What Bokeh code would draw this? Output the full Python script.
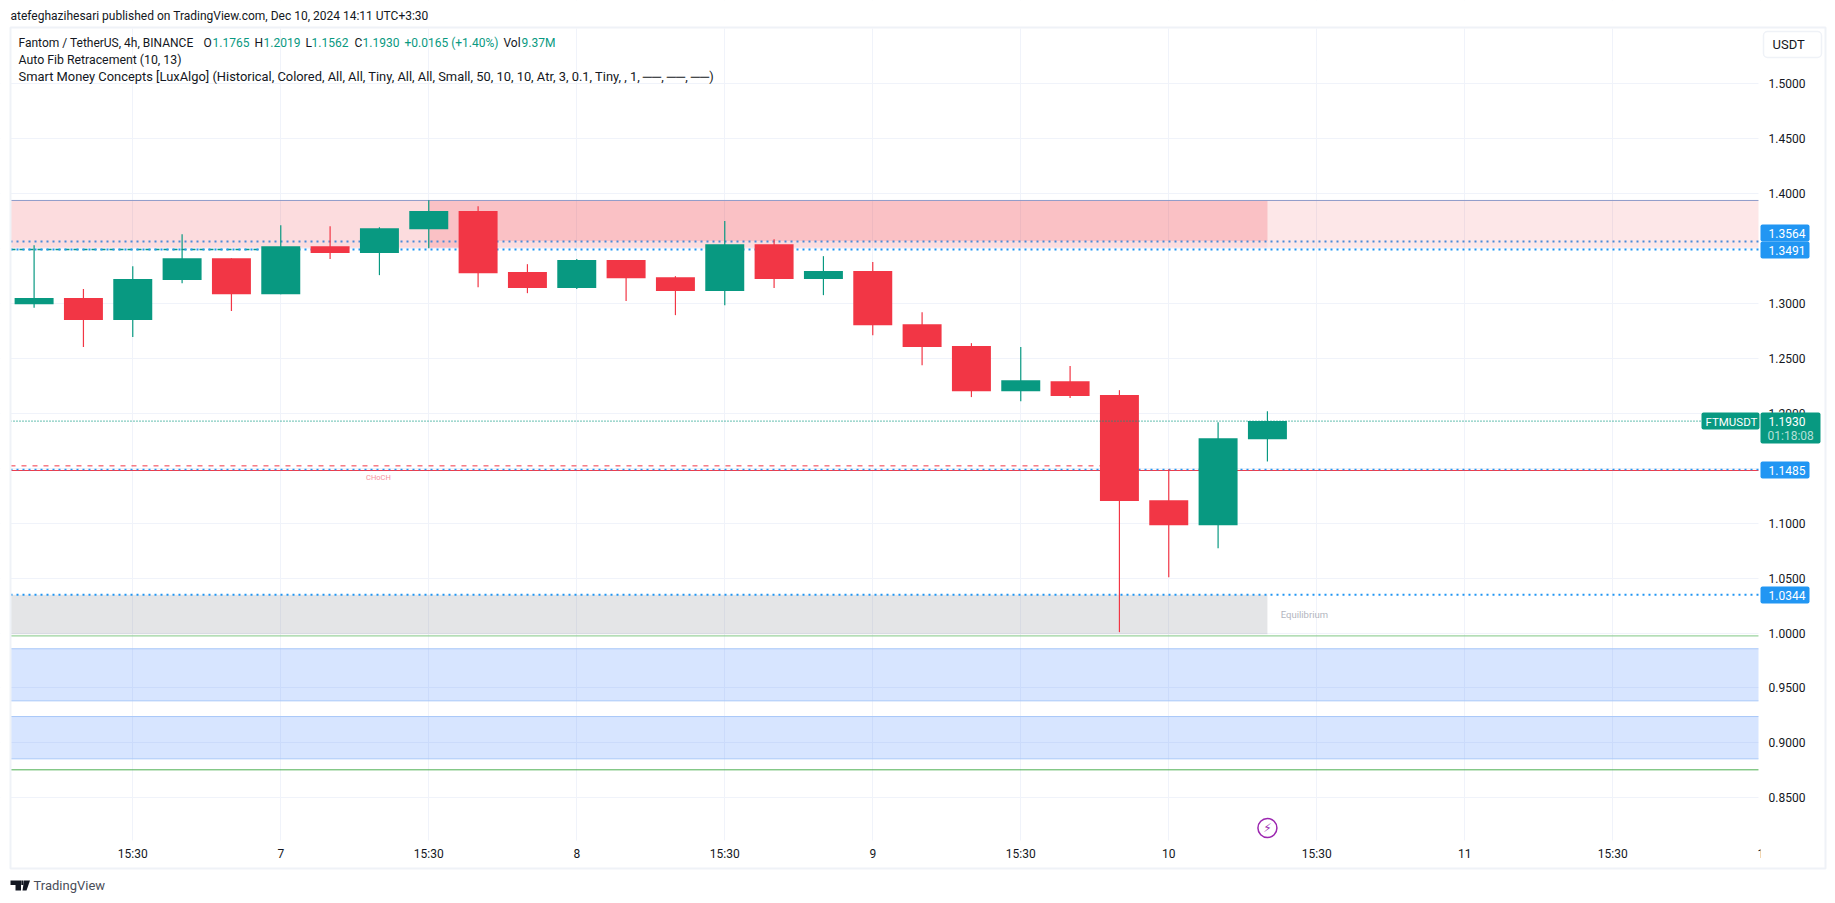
from bokeh.embed import file_html
from bokeh.resources import INLINE
from bokeh.plotting import figure
from bokeh.models import (Range1d, FixedTicker, NumeralTickFormatter, Label, BoxAnnotation,
                          PolyAnnotation)
from bokeh.core.properties import value

FONT = "Roboto"
INK = "#131722"
UP = "#089981"
DOWN = "#f23645"
BLUE = "#2196f3"
FRAME = "#eff2f7"

# candles, oldest first
opens = [1.2994, 1.3049, 1.2849, 1.3213, 1.3413, 1.3085, 1.3522, 1.3459, 1.3677, 1.3841, 1.3286, 1.3140, 1.3395,
         1.3240, 1.3113, 1.3540, 1.3222, 1.3295, 1.2812, 1.2612, 1.2202, 1.2293, 1.2166, 1.1210, 1.0982, 1.1765]
highs = [1.3531, 1.3131, 1.3340, 1.3631, 1.3413, 1.3713, 1.3704, 1.3695, 1.3941, 1.3886, 1.3358, 1.3404, 1.3395,
         1.3249, 1.3750, 1.3586, 1.3431, 1.3377, 1.2921, 1.2639, 1.2603, 1.2430, 1.2211, 1.1492, 1.1920, 1.2019]
lows = [1.2961, 1.2603, 1.2694, 1.3185, 1.2931, 1.3085, 1.3404, 1.3258, 1.3504, 1.3149, 1.3094, 1.3131, 1.3022,
        1.2894, 1.2985, 1.3140, 1.3076, 1.2712, 1.2439, 1.2148, 1.2111, 1.2139, 1.0008, 1.0509, 1.0773, 1.1562]
closes = [1.3049, 1.2849, 1.3222, 1.3413, 1.3085, 1.3522, 1.3459, 1.3686, 1.3841, 1.3276, 1.3140, 1.3395, 1.3231,
          1.3113, 1.3540, 1.3222, 1.3295, 1.2803, 1.2603, 1.2202, 1.2302, 1.2157, 1.1201, 1.0982, 1.1774, 1.1930]

price_ticks = [0.85, 0.90, 0.95, 1.00, 1.05, 1.10, 1.15, 1.20, 1.25, 1.30, 1.35, 1.40, 1.45, 1.50]
time_ticks = [2, 5, 8, 11, 14, 17, 20, 23, 26, 29, 32, 35]
time_labels = ["15:30", "7", "15:30", "8", "15:30", "9", "15:30", "10", "15:30", "11", "15:30", "1"]

# smart-money levels and zones
premium_top, premium_bottom = 1.3938, 1.3507
premium_inner_bottom = 1.3568
equilibrium_top, equilibrium_bottom = 1.0349, 0.9990
demand_tops = [0.9857, 0.9240]
demand_bottoms = [0.9383, 0.8855]
level_a, level_b, level_c, level_d = 1.3564, 1.3491, 1.1488, 1.0349
choch_solid, choch_dash = 1.1480, 1.1522
last_price = 1.1930
green_levels = [0.9974, 0.8755]

# chart pane edges (the frame spans the whole canvas so that overlays beside the pane are not clipped)
X0, X1 = -0.4784, 34.954
Y0, Y1 = 0.8112, 1.5503
XL, XR = -0.6811, 36.353
YB, YT = 0.76109, 1.57583

p = figure(width=1827, height=895, x_range=Range1d(XL, XR), y_range=Range1d(YB, YT),
           y_axis_location="right", toolbar_location=None, output_backend="svg",
           min_border_left=0, min_border_right=0, min_border_top=0, min_border_bottom=0,
           background_fill_color="white", border_fill_color="white", outline_line_color=None)

for ax in (p.xaxis[0], p.yaxis[0]):
    ax.axis_line_color = None
    ax.major_tick_line_color = None
    ax.minor_tick_line_color = None
    ax.major_tick_in = 0
    ax.major_tick_out = 0
    ax.major_label_text_font = FONT
    ax.major_label_text_font_size = "12px"
    ax.major_label_text_color = INK
p.yaxis[0].ticker = FixedTicker(ticks=price_ticks)
p.yaxis[0].formatter = NumeralTickFormatter(format="0.0000")
p.yaxis[0].major_label_standoff = -59
p.xaxis[0].ticker = FixedTicker(ticks=time_ticks)
p.xaxis[0].major_label_overrides = dict(zip(time_ticks, time_labels))
p.xaxis[0].major_label_standoff = -49
p.xgrid[0].ticker = FixedTicker(ticks=time_ticks)
p.ygrid[0].ticker = FixedTicker(ticks=price_ticks)
for g in (p.xgrid[0], p.ygrid[0]):
    g.grid_line_color = "#f0f3fa"
    g.grid_line_width = 1

# white bands hide the grid outside the chart pane
p.quad(left=[XL, X1, XL, XL], right=[X0, XR, XR, XR], top=[YT, YT, YT, Y0], bottom=[YB, YB, Y1, YB],
       fill_color="white", line_color=None)

# zones
p.quad(left=[X0], right=[X1], top=[premium_top], bottom=[premium_bottom], fill_color=DOWN, fill_alpha=0.12, line_color=None)
p.quad(left=[X0], right=[25], top=[premium_top], bottom=[premium_bottom], fill_color=DOWN, fill_alpha=0.06, line_color=None)
p.quad(left=[8, 9], right=[9, 25], top=[premium_top, premium_top], bottom=[premium_bottom, premium_inner_bottom],
       fill_color=DOWN, fill_alpha=0.16, line_color=None)
p.segment(x0=[X0], x1=[X1], y0=[premium_top], y1=[premium_top], line_color="#8f9ac8", line_width=1)
p.quad(left=[X0], right=[25], top=[equilibrium_top], bottom=[equilibrium_bottom], fill_color="#787b86", fill_alpha=0.2, line_color=None)
p.quad(left=[X0] * 2, right=[X1] * 2, top=demand_tops, bottom=demand_bottoms, fill_color="#2975ff", fill_alpha=0.19, line_color=None)
p.segment(x0=[X0] * 4, x1=[X1] * 4, y0=demand_tops + demand_bottoms, y1=demand_tops + demand_bottoms, line_color="#a9c8f8", line_width=1)

# levels
p.segment(x0=[X0] * 2, x1=[X1] * 2, y0=green_levels, y1=green_levels, line_color=["#81c784", "#4caf50"], line_width=1)
p.segment(x0=[X0], x1=[5], y0=[level_b], y1=[level_b], line_color=UP, line_width=1.5, line_dash="5 4")
p.segment(x0=[X0], x1=[X1], y0=[level_a], y1=[level_a], line_color="#4a8ad8", line_width=2, line_dash="2 4")
p.segment(x0=[X0] * 2, x1=[X1] * 2, y0=[level_b, level_d], y1=[level_b, level_d], line_color=BLUE, line_width=2, line_dash="2 4")
p.segment(x0=[X0], x1=[22], y0=[choch_dash], y1=[choch_dash], line_color=DOWN, line_width=1, line_dash="5 6")
p.segment(x0=[X0], x1=[X1], y0=[choch_solid], y1=[choch_solid], line_color=DOWN, line_width=1)
p.segment(x0=[X0], x1=[X1], y0=[level_c], y1=[level_c], line_color=BLUE, line_width=1.5, line_dash="2 4")

# candles
xs = list(range(len(opens)))
colors = [UP if c >= o else DOWN for o, c in zip(opens, closes)]
body_top = [max(o, c) for o, c in zip(opens, closes)]
body_bottom = [min(o, c) for o, c in zip(opens, closes)]
p.segment(x0=xs, x1=xs, y0=lows, y1=highs, line_color=colors, line_width=1.2)
p.vbar(x=xs, width=0.79, top=body_top, bottom=body_bottom, fill_color=colors, line_color=None)
p.segment(x0=[X0], x1=[X1], y0=[last_price], y1=[last_price], line_color=UP, line_width=1.2, line_dash="1 2")

# chart notes
p.text(x=[6.98], y=[1.1413], text=["CHoCH"], text_font=value(FONT), text_font_size="7.5px", text_color="#f8929c",
       text_align="center", text_baseline="middle")
p.text(x=[25.27], y=[1.0172], text=["Equilibrium"], text_font=value(FONT), text_font_size="9.5px", text_color="#b2b5be",
       text_align="left", text_baseline="middle")
p.scatter(x=[25], y=[0.8225], size=19, marker="circle", fill_color="white", line_color="#9c27b0", line_width=1.5)
p.text(x=[25], y=[0.8225], text=["\u26a1"], text_font=value("DejaVu Sans"), text_font_size="12px", text_color="#9c27b0",
       text_align="center", text_baseline="middle")


# helpers: canvas coordinates equal page coordinates
def txt(x, y, s, color=INK, size="13px", align="left", font=FONT, weight="normal"):
    p.add_layout(Label(x=x, y=y, x_units="canvas", y_units="canvas", text=s, text_color=color,
                       text_font=font, text_font_size=size, text_align=align, text_baseline="middle",
                       text_font_style=weight, level="annotation"))


def box(l, t, r, b, fill=None, line=None, radius=0, width=1):
    p.add_layout(BoxAnnotation(left=l, right=r, top=t, bottom=b, left_units="canvas", right_units="canvas",
                               top_units="canvas", bottom_units="canvas", fill_color=fill, fill_alpha=1 if fill else 0,
                               line_color=line, line_alpha=1 if line else 0, line_width=width, border_radius=radius,
                               level="annotation", editable=False))


def poly(xs_, ys_):
    p.add_layout(PolyAnnotation(xs=xs_, ys=ys_, xs_units="canvas", ys_units="canvas",
                                fill_color=INK, fill_alpha=1, line_alpha=0, level="annotation", editable=False))


# outer frame
box(10, 27, 1825, 868, None, FRAME, 0, 2)

# the pane's last tick label is cut by the price scale
box(1760, 846, 1775, 862, "white")

# price tags
box(1760, 224, 1809, 241, BLUE, None, 2)
box(1760, 241, 1809, 258, BLUE, None, 2)
box(1760, 461, 1809, 478, BLUE, None, 2)
box(1760, 586, 1809, 603, BLUE, None, 2)
box(1701, 412, 1759, 429, UP, None, 2)
box(1760, 412, 1820, 443, UP, None, 2)
txt(1768, 233, "%.4f" % level_a, "white", "12px")
txt(1768, 250, "%.4f" % level_b, "white", "12px")
txt(1768, 470, "1.1485", "white", "12px")
txt(1768, 595, "1.0344", "white", "12px")
txt(1768, 421, "%.4f" % last_price, "white", "12px")
txt(1767, 435, "01:18:08", "#b5e0d8", "12px")
txt(1705, 421, "FTMUSDT", "white", "11.5px")

# currency button
box(1763, 31, 1821, 57, "white", FRAME, 4, 1.5)
txt(1772, 44, "USDT", INK, "13px")

# header
txt(10, 15, "atefeghazihesari published on TradingView.com, Dec 10, 2024 14:11 UTC+3:30", INK, "12px")
txt(18, 42, "Fantom / TetherUS, 4h, BINANCE", INK, "12px")
txt(203, 42, "O", INK, "12px")
txt(212, 42, "1.1765", UP, "12px")
txt(254, 42, "H", INK, "12px")
txt(263, 42, "1.2019", UP, "12px")
txt(305, 42, "L", INK, "12px")
txt(311, 42, "1.1562", UP, "12px")
txt(354, 42, "C", INK, "12px")
txt(362, 42, "1.1930", UP, "12px")
txt(404, 42, "+0.0165 (+1.40%)", UP, "12px")
txt(503, 42, "Vol", INK, "12px")
txt(521, 42, "9.37M", UP, "12px")
txt(18, 59, "Auto Fib Retracement (10, 13)", INK, "12.3px")
txt(18, 76, "Smart Money Concepts [LuxAlgo] (Historical, Colored, All, All, Tiny, All, All, Small, 50, 10, 10, Atr, 3, 0.1, Tiny, , 1, \u2500\u2500, \u2500\u2500, \u2500\u2500)", INK, "12.9px")

# footer logo and wordmark
poly([10, 20.5, 20.5, 15, 15, 10], [880, 880, 890, 890, 884.5, 884.5])
poly([23.5, 29.5, 26, 22], [880, 880, 890, 890])
poly([20.8, 23, 23, 20.8], [880, 880, 884.5, 884.5])
txt(33, 885, "TradingView", "#4a4e59", "13px")

open("out.html", "w").write(file_html(p, INLINE))
